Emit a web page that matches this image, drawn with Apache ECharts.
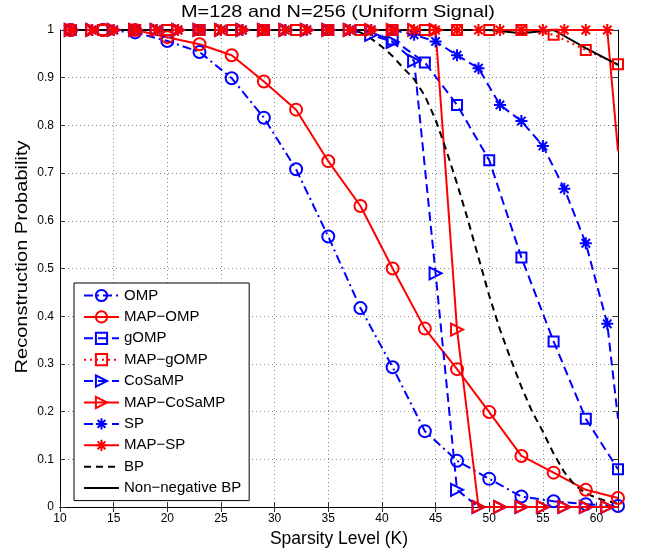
<!DOCTYPE html>
<html lang="en">
<head>
    <meta charset="UTF-8">
    <title>Reconstruction Probability vs Sparsity</title>
    <script src="https://cdn.jsdelivr.net/npm/echarts@6/dist/echarts.min.js"></script>
    <style>
        body, html {
            margin: 0;
            background: #fff;
        }

        #chart {
            width: 647px;
            height: 553px;
        }
    </style>
</head>
<body>
<div id="chart"></div>
<script>
    // K grid for OMP / gOMP family (step 3)
    const k3 = [11, 14, 17, 20, 23, 26, 29, 32, 35, 38, 41, 44, 47, 50, 53, 56, 59, 62];
    const omp = [1, 1, 0.995, 0.977, 0.954, 0.899, 0.816, 0.708, 0.567, 0.417, 0.293, 0.159, 0.097, 0.059, 0.022, 0.012, 0.006, 0.002];
    const mapOmp = [1, 1, 1, 0.985, 0.97, 0.947, 0.892, 0.833, 0.725, 0.631, 0.5, 0.374, 0.289, 0.199, 0.107, 0.072, 0.036, 0.019];
    const gomp = [1, 1, 1, 1, 1, 1, 1, 1, 1, 1, 0.98, 0.932, 0.843, 0.727, 0.523, 0.347, 0.185, 0.079];
    const mapGomp = [1, 1, 1, 1, 1, 1, 1, 1, 1, 1, 1, 1, 1, 1, 1, 0.99, 0.958, 0.928];
    const nnbp = [1, 1, 1, 1, 1, 1, 1, 1, 1, 1, 1, 1, 1, 1, 0.993, 1, 0.962, 0.927];

    // K grid for CoSaMP / SP family (step 2, last point 62 has no marker)
    const k2 = [11, 13, 15, 17, 19, 21, 23, 25, 27, 29, 31, 33, 35, 37, 39, 41, 43, 45, 47, 49, 51, 53, 55, 57, 59, 61, 62];
    const cosamp = [1, 1, 1, 1, 1, 1, 1, 1, 1, 1, 1, 1, 1, 1, 0.99, 0.975, 0.935, 0.49, 0.036, 0, 0, 0, 0, 0, 0, 0, 0];
    const mapCosamp = [1, 1, 1, 1, 1, 1, 1, 1, 1, 1, 1, 1, 1, 1, 1, 1, 1, 1, 0.372, 0, 0, 0, 0, 0, 0, 0, 0];
    const sp = [1, 1, 1, 1, 1, 1, 1, 1, 1, 1, 1, 1, 1, 1, 1, 1, 0.99, 0.976, 0.947, 0.92, 0.843, 0.809, 0.757, 0.667, 0.553, 0.384, 0.185];
    const mapSp = [1, 1, 1, 1, 1, 1, 1, 1, 1, 1, 1, 1, 1, 1, 1, 1, 1, 1, 1, 1, 1, 1, 1, 1, 1, 1, 0.746];

    // BP (no markers)
    const kBp = [11, 37, 38, 39, 40, 41, 42, 43, 44, 45, 46, 47, 48, 49, 50, 51, 52, 53, 54, 55, 56, 57, 58, 59, 60, 61, 62];
    const bp = [1, 1, 0.995, 0.982, 0.965, 0.945, 0.92, 0.897, 0.862, 0.812, 0.748, 0.678, 0.603, 0.523, 0.443, 0.372, 0.31, 0.252, 0.2, 0.158, 0.112, 0.073, 0.045, 0.029, 0.019, 0.012, 0.008];

    const names = ['OMP', 'MAP\u2212OMP', 'gOMP', 'MAP\u2212gOMP', 'CoSaMP', 'MAP\u2212CoSaMP', 'SP', 'MAP\u2212SP', 'BP', 'Non\u2212negative BP'];

    const FONT = '"Liberation Sans", Arial, Helvetica, sans-serif';
    const BLUE = '#0000ff', RED = '#ff0000', BLACK = '#000000';
    const TRI = 'path://M0,0L10,5L0,10Z';
    const STAR = 'path://M5,0L5,10M0,5L10,5M1.5,1.5L8.5,8.5M1.5,8.5L8.5,1.5';

    function pts(ks, vs) {
        return ks.map((k, i) => {
            // the k=62 end point of the step-2 grid is drawn without marker
            if (ks === k2 && k === 62) return {value: [k, vs[i]], symbol: 'none'};
            return [k, vs[i]];
        });
    }

    function mk(name, ks, vs, color, dash, symbol, size) {
        return {
            name: name,
            type: 'line',
            data: pts(ks, vs),
            clip: false,
            symbol: symbol || 'circle',
            symbolSize: size || 12,
            showSymbol: true,
            animation: false,
            lineStyle: {color: color, width: 2, type: dash},
            itemStyle: {
                color: 'rgba(0,0,0,0)',
                borderColor: color,
                borderWidth: symbol === 'none' ? 0 : 2
            },
            emphasis: {disabled: true}
        };
    }

    const chart = echarts.init(document.getElementById('chart'), null, {renderer: 'canvas'});

    const axisCommon = {
        type: 'value',
        axisLine: {show: true, lineStyle: {color: BLACK, width: 1}},
        axisTick: {show: true, inside: true, length: 5, lineStyle: {color: '#333'}},
    };

    const option = {
        backgroundColor: '#fff',
        animation: false,
        textStyle: {fontFamily: FONT},
        grid: {left: 60, right: 29, top: 30, bottom: 42},
        graphic: [{
            type: 'text',
            x: 338,
            y: 12,
            scaleX: 1.17,
            style: {
                text: 'M=128 and N=256 (Uniform Signal)',
                font: '17px ' + FONT,
                fill: '#000',
                align: 'center',
                verticalAlign: 'middle'
            },
            z: 1
        }, {
            type: 'text',
            x: 22,
            y: 257,
            rotation: Math.PI / 2,
            scaleX: 1.18,
            style: {
                text: 'Reconstruction Probability',
                font: '17px ' + FONT,
                fill: '#000',
                align: 'center',
                verticalAlign: 'middle'
            },
            z: 1
        }],
        legend: {
            orient: 'vertical',
            left: 74,
            top: 283,
            padding: [5, 8, 5, 9],
            itemWidth: 35,
            itemHeight: 14,
            itemGap: 6.4,
            backgroundColor: '#fff',
            borderColor: BLACK,
            borderWidth: 1,
            selectedMode: false,
            textStyle: {fontSize: 15, color: '#000', fontFamily: FONT, lineHeight: 14},
            data: names
        },
        xAxis: [
            Object.assign({}, axisCommon, {
                position: 'bottom',
                min: 10, max: 62, interval: 5,
                name: 'Sparsity Level (K)',
                nameLocation: 'middle',
                nameGap: 23,
                nameTextStyle: {fontSize: 17.5, color: '#000', fontFamily: FONT},
                axisLabel: {fontSize: 12, color: '#000', margin: 6, showMaxLabel: false, fontFamily: FONT},
                splitLine: {show: true, lineStyle: {type: [1, 3], color: '#888', width: 1}}
            }),
            Object.assign({}, axisCommon, {
                position: 'top',
                min: 10, max: 62, interval: 5,
                axisLabel: {show: false},
                splitLine: {show: false}
            })
        ],
        yAxis: [
            Object.assign({}, axisCommon, {
                position: 'left',
                min: 0, max: 1, interval: 0.1,
                axisLabel: {fontSize: 12, color: '#000', margin: 6, fontFamily: FONT},
                splitLine: {show: true, lineStyle: {type: [1, 3], color: '#888', width: 1}}
            }),
            Object.assign({}, axisCommon, {
                position: 'right',
                min: 0, max: 1, interval: 0.1,
                axisLabel: {show: false},
                splitLine: {show: false}
            })
        ],
        series: [
            mk(names[0], k3, omp, BLUE, [9, 4, 2, 4], 'circle', 12),
            mk(names[1], k3, mapOmp, RED, 'solid', 'circle', 12),
            mk(names[2], k3, gomp, BLUE, [9, 5], 'rect', 10),
            mk(names[3], k3, mapGomp, RED, [2, 4], 'rect', 10),
            mk(names[4], k2, cosamp, BLUE, [9, 5], TRI, 12),
            mk(names[5], k2, mapCosamp, RED, 'solid', TRI, 12),
            mk(names[6], k2, sp, BLUE, [9, 5], STAR, 12),
            mk(names[7], k2, mapSp, RED, 'solid', STAR, 12),
            mk(names[8], kBp, bp, BLACK, [7, 5], 'none'),
            mk(names[9], k3, nnbp, BLACK, 'solid', 'none')
        ]
    };

    chart.setOption(option);
</script>
</body>
</html>
